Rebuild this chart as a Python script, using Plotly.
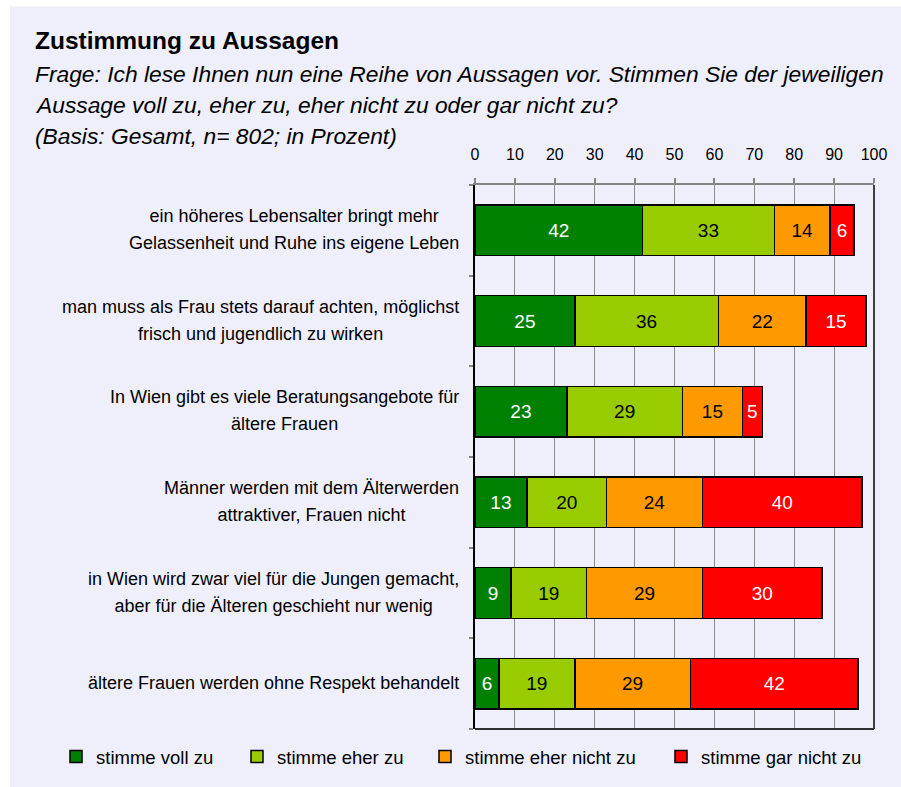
import plotly.graph_objects as go

# Survey statements (top to bottom); <br> marks the line break
categories = [
    "ein höheres Lebensalter bringt mehr<br>Gelassenheit und Ruhe ins eigene Leben",
    "man muss als Frau stets darauf achten, möglichst<br>frisch und jugendlich zu wirken",
    "In Wien gibt es viele Beratungsangebote für<br>ältere Frauen",
    "Männer werden mit dem Älterwerden<br>attraktiver, Frauen nicht",
    "in Wien wird zwar viel für die Jungen gemacht,<br>aber für die Älteren geschieht nur wenig",
    "ältere Frauen werden ohne Respekt behandelt",
]

series_names = ["stimme voll zu", "stimme eher zu", "stimme eher nicht zu", "stimme gar nicht zu"]
voll_zu = [42, 25, 23, 13, 9, 6]
eher_zu = [33, 36, 29, 20, 19, 19]
eher_nicht_zu = [14, 22, 15, 24, 29, 29]
gar_nicht_zu = [6, 15, 5, 40, 30, 42]
series_values = [voll_zu, eher_zu, eher_nicht_zu, gar_nicht_zu]

x_ticks = list(range(0, 101, 10))

colors = ["#008000", "#99CC00", "#FF9900", "#FF0000"]
text_colors = ["white", "black", "black", "white"]

W, H = 901, 787
L, R, T, B = 475, 27, 185, 57
PW, PH = W - L - R, H - T - B

def px_x(x):
    return (x - L) / PW

def px_y(y):
    return (H - B - y) / PH

FONT = "Liberation Sans, Arial, sans-serif"
ypos = list(range(len(categories)))

# one legend box per series so each entry sits at its own position
legend_keys = ["legend2", "legend3", "legend4", "legend5"]
legend_left = [56, 237, 425, 661]

fig = go.Figure()
for i, (name, vals) in enumerate(zip(series_names, series_values)):
    fig.add_trace(go.Bar(
        y=ypos, x=vals, name=name, orientation="h",
        marker=dict(color=colors[i], line=dict(color="black", width=1.5)),
        text=vals, texttemplate="%{text}", textposition="inside",
        insidetextanchor="middle", textangle=0,
        textfont=dict(color=text_colors[i], size=19, family=FONT),
        legend=legend_keys[i], hoverinfo="skip",
    ))

layout_legends = {}
for key, lx in zip(legend_keys, legend_left):
    layout_legends[key] = dict(
        x=px_x(lx), y=px_y(757), xanchor="left", yanchor="middle",
        orientation="h", bgcolor="rgba(0,0,0,0)",
        font=dict(size=18.5, family=FONT, color="black"),
        itemwidth=30,
    )

# category labels: centred lines, block right-aligned next to the axis.
# The annotation font size sets the line pitch (1.3 em = 27 px); the spans set the glyph size.
LABEL_SIZE = 18
annotations = []
for yp, cat in zip(ypos, categories):
    text = "<br>".join(
        f"<span style='font-size:{LABEL_SIZE}px'>{line}</span>" for line in cat.split("<br>")
    )
    annotations.append(dict(
        x=px_x(461), y=yp, xref="paper", yref="y", text=text, yshift=1,
        xanchor="right", yanchor="middle", align="center", showarrow=False,
        font=dict(size=20.8, family=FONT, color="black"),
    ))

annotations.append(dict(
    x=px_x(33), y=px_y(40), xref="paper", yref="paper",
    text="<b>Zustimmung zu Aussagen</b>", xanchor="left", yanchor="middle",
    showarrow=False, font=dict(size=24.5, family=FONT, color="black"),
))
subtitle = [
    "Frage: Ich lese Ihnen nun eine Reihe von Aussagen vor. Stimmen Sie der jeweiligen",
    "Aussage voll zu, eher zu, eher nicht zu oder gar nicht zu?",
    "(Basis: Gesamt, n= 802; in Prozent)",
]
for line, yy in zip(subtitle, [74, 105, 136]):
    annotations.append(dict(
        x=px_x(33), y=px_y(yy), xref="paper", yref="paper",
        text=f"<i>{line}</i>", xanchor="left", yanchor="middle",
        showarrow=False, font=dict(size=22.8, family=FONT, color="black"),
    ))

# panel background and the dark right/bottom frame of the plot area
shapes = [
    dict(type="rect", xref="paper", yref="paper", layer="below",
         x0=px_x(10), x1=px_x(W + 5), y0=px_y(H + 5), y1=px_y(6),
         fillcolor="#EFEFFB", line=dict(width=0)),
    dict(type="line", xref="paper", yref="paper", layer="above",
         x0=1, x1=1, y0=0, y1=1, line=dict(color="#404040", width=2)),
    dict(type="line", xref="paper", yref="paper", layer="above",
         x0=0, x1=1, y0=0, y1=0, line=dict(color="#303030", width=2)),
]

fig.update_layout(
    width=W, height=H,
    margin=dict(l=L, r=R, t=T, b=B, pad=0),
    barmode="stack", bargap=0.44,
    paper_bgcolor="white", plot_bgcolor="#FDE8B3",
    font=dict(family=FONT, color="black"),
    annotations=annotations,
    shapes=shapes,
    xaxis=dict(
        side="top", range=[0, 100], tickvals=x_ticks, ticktext=[str(t) for t in x_ticks],
        showgrid=True, gridcolor="#8C8C8C", gridwidth=1,
        showline=True, linecolor="#858585", linewidth=1.5,
        ticks="outside", ticklen=5, tickcolor="#858585", tickwidth=1.5,
        tickfont=dict(size=16, family=FONT, color="black"),
        ticklabelstandoff=12, zeroline=False, fixedrange=True,
    ),
    yaxis=dict(
        range=[len(categories) - 0.5, -0.5],
        tickvals=[i - 0.5 for i in range(len(categories) + 1)],
        showticklabels=False, ticks="outside", ticklen=4, tickcolor="#858585", tickwidth=1.5,
        showgrid=False, showline=True, linecolor="black", linewidth=2,
        zeroline=False, fixedrange=True,
    ),
    **layout_legends,
)

fig.write_html("out.html")
